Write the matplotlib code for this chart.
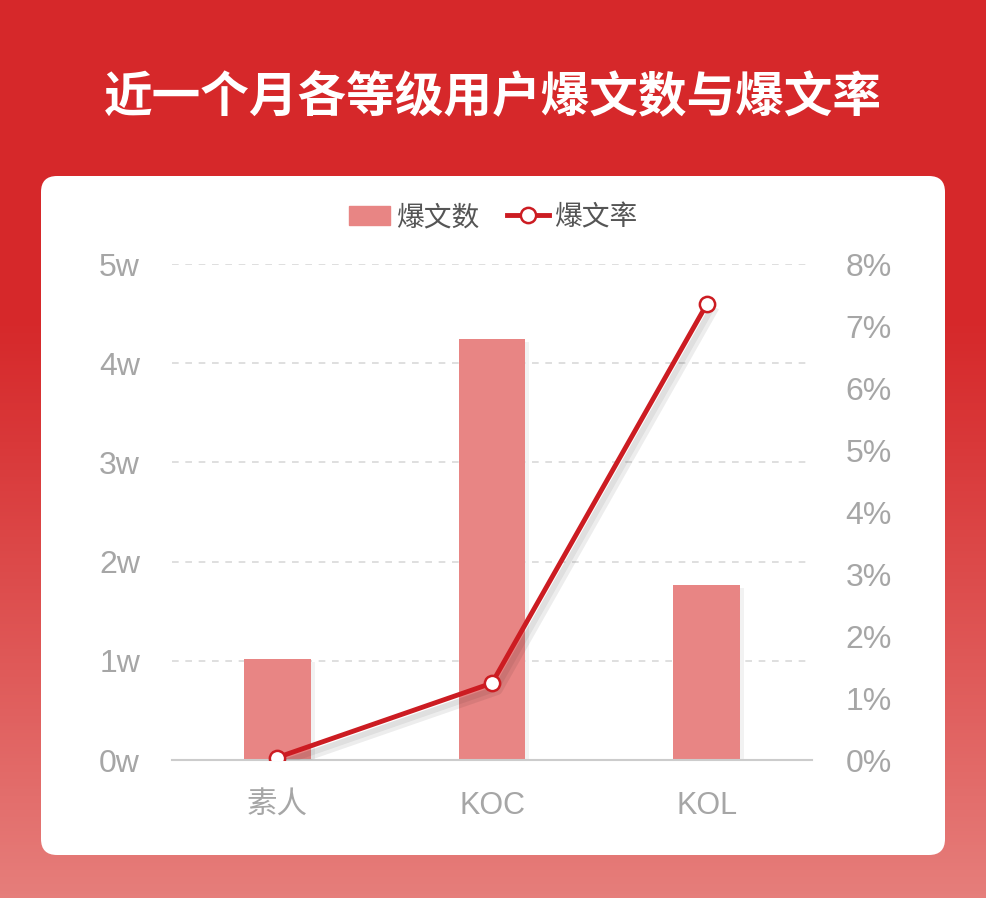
import numpy as np
import matplotlib.pyplot as plt
from matplotlib.patches import FancyBboxPatch, Patch
from matplotlib.lines import Line2D
import matplotlib.patheffects as pe

plt.rcParams['font.family'] = ['Liberation Sans', 'Noto Sans CJK SC', 'DejaVu Sans']

# data
categories = ['素人', 'KOC', 'KOL']
burst_count = [1.02, 4.24, 1.76]      # 单位: w
burst_rate = [0.04, 1.24, 7.35]       # 单位: %
left_ticks = [0, 1, 2, 3, 4, 5]
right_ticks = [0, 1, 2, 3, 4, 5, 6, 7, 8]

bar_color = '#E88584'
line_color = '#CC1C22'
tick_color = '#A6A6A6'

W, H = 986, 898
fig = plt.figure(figsize=(W / 100, H / 100), dpi=100)

# background gradient
bg = fig.add_axes([0, 0, 1, 1], zorder=-10)
top = np.array([214, 40, 42]) / 255
bot = np.array([230, 126, 123]) / 255
t = np.linspace(0, 1, 256)
t = np.clip((t - 0.35) / 0.65, 0, 1) ** 1.1
grad = top[None, :] * (1 - t[:, None]) + bot[None, :] * t[:, None]
bg.imshow(grad[:, None, :], aspect='auto', extent=[0, W, H, 0], origin='upper')
bg.set_xlim(0, W)
bg.set_ylim(H, 0)
bg.axis('off')

# white card
card = FancyBboxPatch((41, 176), 904, 679, boxstyle='round,pad=0,rounding_size=16',
                      fc='white', ec='none')
bg.add_patch(card)

fig.text(0.5, 1 - 97 / H, '近一个月各等级用户爆文数与爆文率', color='white',
         fontsize=35, fontweight='bold', ha='center', va='center',
         family=['Noto Sans CJK SC'])

ax = fig.add_axes([172 / W, 1 - 760 / H, 640 / W, 496 / H])
ax.set_facecolor('none')
x = np.arange(len(categories))
bars = ax.bar(x, burst_count, width=0.31, color=bar_color, zorder=3)
for b in bars:
    b.set_path_effects([pe.SimplePatchShadow(offset=(3, -2), shadow_rgbFace='#000000', alpha=0.05),
                        pe.Normal()])
ax.set_xlim(-0.49, 2.49)
ax.set_ylim(0, 5)
ax.set_yticks(left_ticks)
ax.set_yticklabels([f'{v}w' for v in left_ticks])
ax.set_xticks(x)
ax.set_xticklabels(categories, family=['Liberation Sans', 'Noto Sans CJK SC'])
ax.tick_params(axis='y', length=0, pad=23, labelsize=23, labelcolor=tick_color)
ax.tick_params(axis='x', length=0, pad=22, labelsize=22, labelcolor=tick_color)
ax.grid(axis='y', color='#D9D9D9', linestyle=(0, (4, 4)), linewidth=1.2, zorder=0)
for s in ['top', 'left', 'right']:
    ax.spines[s].set_visible(False)
ax.spines['bottom'].set_color('#CCCCCC')
ax.spines['bottom'].set_linewidth(1.5)
ax.spines['bottom'].set_zorder(4)

ax2 = ax.twinx()
ax2.set_ylim(0, 8)
ax2.set_yticks(right_ticks)
ax2.set_yticklabels([f'{v}%' for v in right_ticks])
ax2.tick_params(axis='y', length=0, pad=24, labelsize=23, labelcolor=tick_color)
for s in ax2.spines.values():
    s.set_visible(False)
ax2.plot(x, burst_rate, color=line_color, lw=3.5, zorder=5,
         path_effects=[pe.SimpleLineShadow(offset=(4, -5), shadow_color='black',
                                           alpha=0.07, linewidth=7),
                       pe.SimpleLineShadow(offset=(3, -4), shadow_color='black',
                                           alpha=0.06, linewidth=4),
                       pe.Normal()])
ax2.plot(x, burst_rate, ls='none', marker='o', ms=11, mfc='white', mec=line_color,
         mew=1.8, zorder=6)

bar_h = Patch(color=bar_color)
line_h = Line2D([], [], color=line_color, lw=3.5, marker='o', ms=11, mfc='white',
                mec=line_color, mew=1.8)
leg = fig.legend([bar_h, line_h], ['爆文数', '爆文率'], loc='center', ncol=2,
                 bbox_to_anchor=(0.5, 1 - 217 / H), frameon=False,
                 prop={'family': ['Noto Sans CJK SC'], 'size': 20},
                 handlelength=1.5, handleheight=0.65, handletextpad=0.2,
                 columnspacing=1.0)
for txt in leg.get_texts():
    txt.set_color('#555555')

fig.savefig('out.png', dpi=100)
